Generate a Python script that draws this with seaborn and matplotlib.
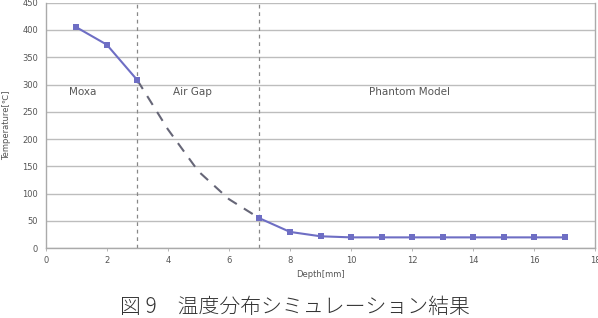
import matplotlib
matplotlib.use("Agg")
import matplotlib.pyplot as plt
import seaborn as sns
import pandas as pd

sns.set_theme(style="white")
plt.rcParams['font.family'] = ['DejaVu Sans', 'Noto Sans CJK JP']

# Data
moxa_depth = [1, 2, 3]
moxa_temp = [405, 373, 308]
gap_depth = [3, 4, 5, 6, 7]
gap_temp = [308, 218, 141, 90, 55]
phantom_depth = [7, 8, 9, 10, 11, 12, 13, 14, 15, 16, 17]
phantom_temp = [55, 30, 22, 20, 20, 20, 20, 20, 20, 20, 20]
region_labels = ["Moxa", "Air Gap", "Phantom Model"]
region_label_x = [1.2, 4.8, 11.9]
boundaries = [3, 7]
xticks = [0, 2, 4, 6, 8, 10, 12, 14, 16, 18]
yticks = [0, 50, 100, 150, 200, 250, 300, 350, 400, 450]

line_color = "#6e6ec4"
grid_color = "#bdbdbd"
text_color = "#555555"

fig = plt.figure(figsize=(5.98, 3.18), dpi=100)
ax = fig.add_axes([0.0764, 0.2192, 0.9193, 0.7726])

ax.set_xlim(0, 18)
ax.set_ylim(0, 450)
ax.set_yticks(yticks)
ax.set_xticks(xticks)
ax.yaxis.grid(True, color=grid_color, linewidth=1.0)
ax.xaxis.grid(False)
ax.set_axisbelow(True)

for b in boundaries:
    ax.axvline(b, color="#888888", linestyle=(0, (3, 3)), linewidth=0.9)

df_m = pd.DataFrame({"Depth": moxa_depth, "Temp": moxa_temp})
df_g = pd.DataFrame({"Depth": gap_depth, "Temp": gap_temp})
df_p = pd.DataFrame({"Depth": phantom_depth, "Temp": phantom_temp})

sns.lineplot(data=df_g, x="Depth", y="Temp", ax=ax, color="#666677",
             linewidth=1.5, linestyle=(0, (5, 4)), sort=True)
sns.lineplot(data=df_m, x="Depth", y="Temp", ax=ax, color=line_color,
             linewidth=1.5, marker="s", markersize=4, markeredgewidth=0)
sns.lineplot(data=df_p, x="Depth", y="Temp", ax=ax, color=line_color,
             linewidth=1.5, marker="s", markersize=4, markeredgewidth=0)

for lbl, lx in zip(region_labels, region_label_x):
    ax.text(lx, 286, lbl, ha="center", va="center", fontsize=7.5, color="#555555")

for side in ["left", "bottom", "right"]:
    ax.spines[side].set_color("#aaaaaa")
    ax.spines[side].set_linewidth(1.0)
ax.spines["top"].set_visible(False)

ax.tick_params(axis="both", labelsize=6, colors=text_color, length=2, width=0.6)
ax.tick_params(axis="y", left=False)
ax.tick_params(axis="x", bottom=True, color="#aaaaaa")
ax.set_xlabel("Depth[mm]", fontsize=6, color=text_color, labelpad=4)
ax.set_ylabel("Temperature[℃]", fontsize=6, color=text_color, labelpad=8)

fig.text(0.493, 0.035, "図 9　温度分布シミュレーション結果", ha="center", va="center",
         fontsize=15, color="#333333", family=["Noto Sans CJK JP", "DejaVu Sans"],
         fontweight="light")

fig.savefig("out.png", dpi=100)
